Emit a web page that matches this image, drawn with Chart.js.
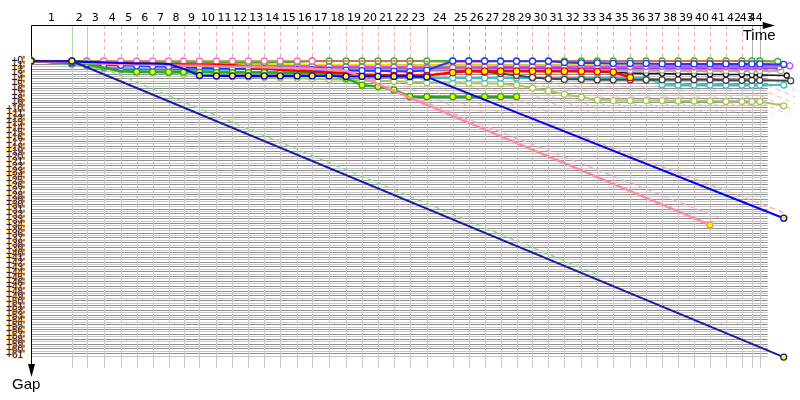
<!DOCTYPE html>
<html>
<head>
<meta charset="utf-8">
<script src="https://cdn.jsdelivr.net/npm/chart.js@4/dist/chart.umd.min.js"></script>
<style>html,body{margin:0;padding:0;background:#fff}canvas{display:block}</style>
</head>
<body>
<canvas id="race" width="800" height="400"></canvas>
<script>
// leader's elapsed time at the end of each lap (index 0 = start)
const lapEnd = [0,41,56,73,90,106,122,138,153,169,186,202,218,234,250,267,282,299,316,332,348,364,380,397,423,439,455,471,487,503,519,535,552,568,584,601,617,633,649,665,681,697,713,723,731]
const lapNames = ['1','2','3','4','5','6','7','8','9','10','11','12','13','14','15','16','17','18','19','20','21','22','23','24','25','26','27','28','29','30','31','32','33','34','35','36','37','38','39','40','41','42','43','44']
// who led each lap (G green, R red, B blue, N none)
const lapLeader = 'GGRRRRRRRRRRRRRRRRRRRRGBBBRRRRRRRRRRRRRRRRNN'.split('')
const gapMax = 61

// gap to leader after each lap
const gapGreenLead = [0,0,0,0.1,0.2, 0.2,0.3,0.3,0.3,0.3, 0.3,0.3,0.3,0.3,0.2, 0.2,0,0,0,0, 0,0,0,0,0, 0,0,0,0,0, 0,0,0,0,0, 0,0,0,0,0, 0,0,0,0,0]
const gapRedLead = [0,0.1,0.1,0,0, 0,0,0,0,0, 0,0,0,0,0, 0,0,0,0,0, 0,0,0,0.1,0.2, 0.2,0.2,0,0,0, 0,0,0,0,0, 0,0,0,0,0, 0,0,0,0.1,0.1]
const gapBlueLead = [0,0.4,0.6,0.8,0.9, 1.0,1.1,1.2,1.3,1.4, 1.5,1.6,1.6,1.7,1.7, 1.8,1.8,1.9,1.9,2.0, 2.0,2.1,2.2,1.9,0, 0,0,0.05,0.05,0.05, 0.05,0.3,0.4,0.4,0.5, 0.5,0.5,0.6,0.6,0.6, 0.6,0.6,0.6,0.6,0.6]
const gapMagenta = [0,0.3,0.5,0.6,0.7, 0.7,0.8,0.8,0.8,0.9, 0.9,1.0,1.0,1.0,1.1, 1.1,1.1,1.2,1.2,1.2, 1.3,1.3,1.3,1.4,1.4, 1.3,1.3,1.2,1.2,1.2, 1.2,1.2,1.2,1.2,1.2, 1.2,1.1,1.1,1.1,1.1, 1.1,1.0,1.0,1.0,1.0]
const gapYellow = [0,0.2,0.3,0.3,0.4, 0.4,0.4,0.5,0.5,0.5, 0.6,0.6,0.6,0.7,0.7, 0.7,0.8,0.8,0.8,0.8, 0.8,0.9,0.9,0.9,0.9, 0.9,0.9,0.9,0.9,0.9, 0.9,0.9,0.8,0.8,0.8, 0.8,0.8,0.8,0.8,0.8, 0.8,0.8,0.8,0.8,0.8]
const gapBrown = [0,0.2,0.4,0.5,0.6, 0.6,0.7,0.7,0.7,0.8, 0.8,0.8,0.9,0.9,0.9, 1.0,1.0,1.0,1.0,1.1, 1.1,1.1,1.2,1.2,1.2, 1.2,1.1,1.1,1.1,1.1, 1.1,1.1,1.1,1.2,1.2, 1.2,1.2,1.2,1.2,1.3, 1.3,1.3,1.3,1.3,1.3]
const gapLightPink = [0,0.5,0.9,1.1,1.2, 1.3,1.4,1.4,1.4,1.3, 1.3,1.3,1.2,1.2,1.2, 1.1,1.1,1.1,1.1,1.1, 1.0,1.0,1.0,1.0,1.0, 1.0,1.0,1.0,1.0,1.0, 1.0,1.0,1.0,1.0,1.0, 1.0,1.0,1.0,1.0,1.0, 1.0,1.0,1.0,1.0,1.0]
const gapGray = [0,0.4,0.7,0.9,1.0, 1.1,1.2,1.3,1.3,1.4, 1.4,1.5,1.5,1.5,1.6, 1.6,1.6,1.7,1.7,1.7, 1.8,1.8,1.8,1.8,1.7, 1.7,1.8,1.8,1.8,1.8, 1.9,1.9,1.9,1.9,1.9, 1.9,1.9,1.9,1.9,2.0, 2.0,2.0,2.0,2.0,2.0]
const gapPurple = [0,0.3,0.8,1.3,1.7, 1.8,1.8,1.7,1.7,1.6, 1.6,1.6,1.6,1.5,1.5, 1.5,1.5,1.5,1.5,1.5, 1.5,1.5,1.6,1.6,1.6, 1.6,1.6,1.6,1.6,1.5, 1.5,1.5,1.5,1.5,1.5, 1.5,1.5,1.5,1.5,1.5, 1.5,1.5,1.5,1.5,1.5]
const gapBlack = [0,0.3,0.6,0.8,0.9, 1.0,1.0,1.1,1.1,1.2, 1.2,1.2,1.3,1.3,1.3, 1.4,1.4,1.4,1.5,1.5, 1.6,1.6,1.7,1.7,1.6, 1.5,1.4,1.3,1.3,1.2, 1.2,1.4,1.8,2.2,2.4, 2.5,2.6,2.6,2.7,2.7, 2.8,2.8,2.8,2.9,2.9]
const gapDarkGray = [0,0.5,0.8,1.0,1.1, 1.2,1.3,1.3,1.4,1.4, 1.4,1.5,1.5,1.5,1.6, 1.6,1.6,1.7,1.7,1.7, 1.8,1.8,1.8,1.8,1.8, 2.0,2.3,2.6,3.0,3.4, 3.7,3.8,3.8,3.9,3.9, 3.9,3.9,3.9,3.9,3.9, 3.9,4.0,4.0,4.0,4.0]
const gapCyan = [0,0.6,1.0,1.3,1.5, 1.6,1.7,1.8,1.9,2.0, 2.1,2.2,2.3,2.4,2.5, 2.6,2.7,2.8,2.9,3.0, 3.1,3.2,3.3,3.4,3.5, 3.5,3.5,3.5,3.5,3.5, 3.5,3.5,3.5,3.5,3.5, 3.5,3.4,4.9,5.0,5.0, 5.0,5.0,5.0,5.0,5.0]
const gapOlive = [0,0.7,1.2,1.6,1.9, 2.1,2.3,2.5,2.7,2.9, 3.1,3.2,3.3,3.4,3.5, 3.6,3.7,3.8,3.9,4.0, 4.1,4.2,4.3,4.5,4.6, 4.6,4.6,4.7,5.0,5.6, 6.2,6.9,7.5,8.1,8.2, 8.2,8.2,8.2,8.3,8.3, 8.3,8.4,8.4,8.4,8.4]
const gapGreenY = [0,0.1,0.6,1.4,2.1, 2.3,2.3,2.3,2.3,2.3, 2.4,2.4,2.4,2.4,2.4, 2.5,2.5,2.6,3.6,5.0, 5.3,6.0,7.4,7.4,7.4, 7.4,7.4,7.4,7.4]
const gapRedY = [0,0.2,0.3,0.4,0.5, 0.6,0.6,0.7,0.7,0.8, 0.8,0.9,1.2,1.5,1.8, 2.0,2.2,2.4,2.6,2.8, 2.9,3.0,3.0,3.0,2.4, 2.1,2.1,2.1,2.1,2.1, 2.1,2.1,2.1,2.2,2.3, 3.4]
const gapBlueY = [0,0.1,0.2,0.3,0.4, 0.5,0.5,0.6,1.6,3.0, 3.1,3.1,3.1,3.1,3.1, 3.1,3.1,3.1,3.2,3.2, 3.2,3.2,3.2,3.3]
const gapPink = [0,0.2,0.4,0.5,0.6, 0.7,0.8,0.9,1.0,1.0, 1.1,1.2,1.2,1.3,1.4, 1.5,1.6,1.8,2.0]
const gapNavy = [0,0]

// last recorded point [time, gap]
const finishNavy = [755,61.4]
const finishBlueY = [755,32.6]
const finishPink = [681,34.0]

// reference lines [time, gap] pairs
const refGreen = [[55,0],[569,44.4]]
const refPinkA = [[290,0],[690,32.5]]
const refPinkB = [[353,0],[756,31.5]]
const lapDownLaps = [17,18,19,20,21,22,23,24,25,26,27,28,29,30,31,32,33,34,35,36,37,38,39,40,41,42]
const lapDownSpan = 126
const lapDownDepth = 11

// extent of the drawn grid / time axis, in time units
const gridEndTime = 739
const axisEndTime = 746

function points(gaps, finish) {
    const out = []
    gaps.forEach((g, i) => { if (g !== null) out.push({x: lapEnd[i], y: g}) })
    if (finish) out.push({x: finish[0], y: finish[1]})
    return out
}

function series(gaps, finish, color, fill, width, opts) {
    return Object.assign({
        data: points(gaps, finish),
        borderColor: color,
        borderWidth: width,
        pointBackgroundColor: fill,
        pointBorderColor: color,
        pointBorderWidth: 1.3,
        pointRadius: 3,
        tension: 0,
        fill: false,
    }, opts || {})
}

function refLine(pts, color, width) {
    return {
        data: pts.map(p => ({x: p[0], y: p[1]})),
        borderColor: color,
        borderWidth: width,
        borderDash: [5, 4],
        pointRadius: 0,
        tension: 0,
        fill: false,
    }
}

const datasets = [
    series(gapNavy, finishNavy, '#1c1ca0', '#ffff00', 2),
    series(gapBlueY, finishBlueY, '#0000f0', '#ffff00', 2, {
        pointRadius: ctx => ctx.dataIndex < 9 ? 0 : 3
    }),
    series(gapPink, finishPink, '#ff8ca0', '#ffff00', 2.5, {
        pointBorderColor: '#ff9040',
        pointRadius: ctx => ctx.dataIndex === gapPink.length ? 3 : 0
    }),
    series(gapRedY, null, '#ff0000', '#ffff00', 2.5, {
        pointBorderColor: '#e00000',
        pointRadius: ctx => ctx.dataIndex < 21 ? 0 : 3.2
    }),
    series(gapGreenY, null, '#18b018', '#ffff00', 2.5, {
        pointRadius: ctx => (ctx.dataIndex > 1 && ctx.dataIndex < 5) ? 0 : 3
    }),
    series(gapBlueLead, [755, 0.7], '#1a3cff', '#ffffff', 2),
    series(gapRedLead, [745, 0.1], '#ff5a5a', '#ffffff', 1.5, {
        pointBorderColor: '#f070c0',
        pointRadius: ctx => ctx.dataIndex < 17 ? 3 : 0
    }),
    series(gapGreenLead, [749, 0.1], '#20c020', '#ffffff', 2),
    series(gapMagenta, [761, 1.0], '#dd44ee', '#ffffff', 2),
    series(gapYellow, [758, 0.8], '#e6e600', '#ffff00', 2, {
        pointBorderColor: '#b8b800',
        pointRadius: ctx => ctx.dataIndex < 10 ? 3.8 : 0
    }),
    series(gapBrown, [751, 1.3], '#b08848', '#ffffff', 1.5, {pointRadius: 2.5}),
    series(gapLightPink, [753, 1.0], '#ffa0c8', '#ffffff', 1.5, {pointRadius: 2.5}),
    series(gapGray, [752, 2.0], '#a8a8a8', '#ffffff', 2),
    series(gapPurple, [750, 1.6], '#8844cc', '#ffffff', 1.5, {pointRadius: 2.5}),
    series(gapBlack, [758, 3.0], '#151515', '#ffffff', 1.5, {pointRadius: 2.5}),
    series(gapDarkGray, [762, 4.1], '#444444', '#ffffff', 2),
    series(gapCyan, [755, 5.0], '#30c4cc', '#ffffff', 2),
    series(gapOlive, [755, 9.3], '#a6c858', '#ffffff', 2),
    refLine(refGreen, '#8fdc8f', 1.5),
    refLine(refPinkA, '#ffa8b0', 1.3),
    refLine(refPinkB, '#ffa8b0', 1.3),
]
lapDownLaps.forEach(k => {
    datasets.push(refLine([[lapEnd[k], 0], [lapEnd[k] + lapDownSpan, lapDownDepth]], 'rgba(255,160,170,0.75)', 1.2))
})

const leaderStyle = {
    G: {color: '#a8e0a8', dash: []},
    R: {color: '#ffa8a8', dash: [4, 3]},
    B: {color: '#a8a8ff', dash: [4, 3]},
    N: {color: '#b0b0b0', dash: []},
}

const raceGrid = {
    id: 'raceGrid',
    beforeDatasetsDraw(chart) {
        const {ctx, chartArea: a, scales: {x, y}} = chart
        const y0 = Math.round(y.getPixelForValue(0))
        const gx = x.getPixelForValue(gridEndTime)
        const ex = x.getPixelForValue(axisEndTime)
        ctx.save()
        ctx.lineWidth = 1
        // gap rows
        let k = 0
        for (let v = 0.6; v <= gapMax + 0.3; v += 0.5, k++) {
            const py = Math.round(y.getPixelForValue(v)) + 0.5
            ctx.strokeStyle = k % 2 ? '#c6c6c6' : '#8e8e8e'
            ctx.beginPath(); ctx.moveTo(a.left, py); ctx.lineTo(gx, py); ctx.stroke()
        }
        // lap lines
        lapEnd.forEach((t, i) => {
            if (i === 0) return
            const px = Math.round(x.getPixelForValue(t)) + 0.5
            ctx.setLineDash([])
            ctx.strokeStyle = '#c8c8c8'
            ctx.beginPath(); ctx.moveTo(px, y0); ctx.lineTo(px, a.bottom - 4); ctx.stroke()
            const st = leaderStyle[lapLeader[i - 1]]
            ctx.strokeStyle = st.color
            ctx.setLineDash(st.dash)
            ctx.beginPath(); ctx.moveTo(px, a.top); ctx.lineTo(px, y0); ctx.stroke()
        })
        ctx.setLineDash([])
        // axes with arrows
        ctx.strokeStyle = '#000'
        ctx.fillStyle = '#000'
        const ax = a.left + 0.5, ay = a.top + 0.5
        ctx.beginPath(); ctx.moveTo(ax, ay); ctx.lineTo(ex - 6, ay); ctx.stroke()
        ctx.beginPath(); ctx.moveTo(ex - 12, ay - 3.5); ctx.lineTo(ex, ay); ctx.lineTo(ex - 12, ay + 3.5); ctx.closePath(); ctx.fill()
        ctx.beginPath(); ctx.moveTo(ax, ay); ctx.lineTo(ax, a.bottom - 2); ctx.stroke()
        ctx.beginPath(); ctx.moveTo(ax - 3.5, a.bottom - 8); ctx.lineTo(ax, a.bottom + 5); ctx.lineTo(ax + 3.5, a.bottom - 8); ctx.closePath(); ctx.fill()
        ctx.restore()
    },
    afterDraw(chart) {
        const {ctx, chartArea: a, scales: {x}} = chart
        const ex = x.getPixelForValue(axisEndTime)
        ctx.save()
        ctx.fillStyle = '#000'
        ctx.font = '15px "Liberation Sans"'
        ctx.textBaseline = 'alphabetic'
        ctx.fillText('Time', ex - 32, a.top + 15)
        ctx.fillText('Gap', a.left - 19, a.bottom + 17)
        ctx.restore()
    }
}

new Chart(document.getElementById('race'), {
    type: 'line',
    data: {datasets: datasets},
    options: {
        responsive: false,
        animation: false,
        devicePixelRatio: 1,
        layout: {padding: {left: 0, top: 0, right: 3, bottom: 28}},
        plugins: {legend: {display: false}, tooltip: {enabled: false}},
        scales: {
            x: {
                type: 'linear',
                position: 'top',
                min: 0,
                max: 766,
                afterFit: s => { s.height = 25 },
                afterBuildTicks: s => {
                    s.ticks = lapNames.map((n, i) => ({value: (lapEnd[i] + lapEnd[i + 1]) / 2}))
                },
                ticks: {
                    autoSkip: false, maxRotation: 0, minRotation: 0, padding: 0,
                    color: '#000',
                    font: {family: 'DejaVu Sans', size: 11},
                    callback: (v, i) => lapNames[i],
                },
                grid: {display: false, drawTicks: false},
                border: {display: false},
            },
            y: {
                type: 'linear',
                reverse: true,
                min: -7.47,
                max: 64.5,
                afterFit: s => { s.width = 31 },
                afterBuildTicks: s => {
                    s.ticks = Array.from({length: gapMax + 1}, (_, i) => ({value: i}))
                },
                ticks: {
                    autoSkip: false, padding: 6,
                    color: '#14145a',
                    textStrokeColor: 'rgba(255,170,40,0.75)',
                    textStrokeWidth: 1,
                    font: {family: 'Liberation Sans', size: 10},
                    callback: v => '+' + v + "'",
                },
                grid: {display: false, drawTicks: false},
                border: {display: false},
            },
        },
    },
    plugins: [raceGrid],
})
</script>
</body>
</html>
